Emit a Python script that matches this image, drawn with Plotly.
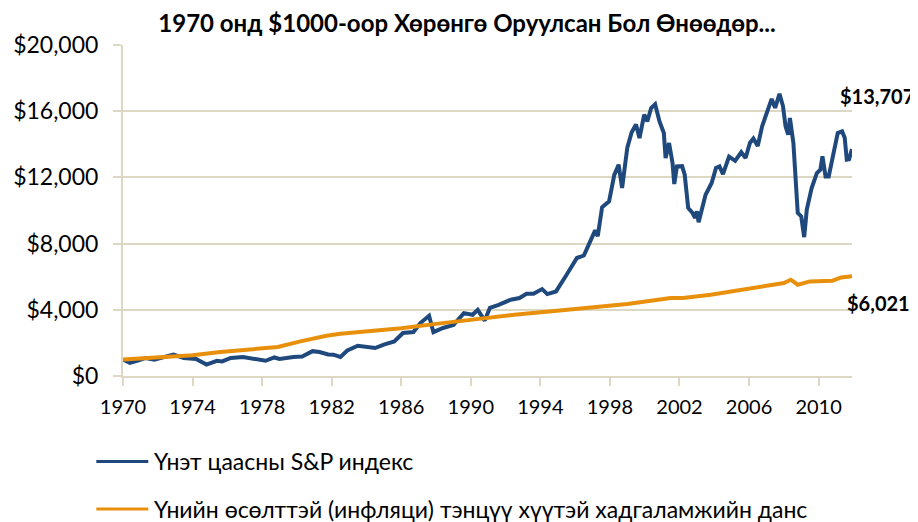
import plotly.graph_objects as go

# ---- data ----
title_text = "1970 онд $1000-оор Хөрөнгө Оруулсан Бол Өнөөдөр..."
series_names = ["Үнэт цаасны S&P индекс",
                "Үнийн өсөлттэй (инфляци) тэнцүү хүүтэй хадгаламжийн данс"]

sp_years = [1970.0, 1970.4, 1970.9, 1971.3, 1971.8, 1972.3, 1972.9, 1973.5, 1974.2, 1974.8,
            1975.4, 1975.7, 1976.2, 1976.9, 1977.5, 1978.2, 1978.7, 1979.0, 1979.8, 1980.3,
            1980.9, 1981.3, 1981.8, 1982.1, 1982.5, 1982.9, 1983.5, 1984.5, 1985.0, 1985.6,
            1986.1, 1986.7, 1987.1, 1987.6, 1987.85, 1988.4, 1989.0, 1989.6, 1990.1, 1990.4,
            1990.8, 1991.1, 1991.6, 1992.0, 1992.3, 1992.8, 1993.2, 1993.6, 1994.1, 1994.4,
            1994.9, 1995.5, 1996.1, 1996.5, 1996.9, 1997.15, 1997.3, 1997.55, 1997.95, 1998.25,
            1998.5, 1998.7, 1999.0, 1999.25, 1999.5, 1999.7, 1999.97, 2000.15, 2000.37, 2000.6,
            2000.85, 2001.1, 2001.2, 2001.4, 2001.6, 2001.7, 2001.85, 2002.15, 2002.3, 2002.5,
            2002.75, 2002.9, 2003.0, 2003.1, 2003.5, 2003.85, 2004.1, 2004.3, 2004.5, 2004.85,
            2005.2, 2005.55, 2005.8, 2006.05, 2006.25, 2006.5, 2006.75, 2007.0, 2007.3, 2007.5,
            2007.75, 2007.95, 2008.1, 2008.25, 2008.35, 2008.55, 2008.7, 2008.8, 2009.0, 2009.17,
            2009.32, 2009.6, 2009.9, 2010.1, 2010.22, 2010.4, 2010.58, 2010.85, 2011.1, 2011.35,
            2011.5, 2011.62, 2011.75, 2011.92]
sp_values = [1000, 790, 950, 1090, 990, 1150, 1290, 1090, 1030, 690,
             920, 880, 1090, 1150, 1030, 920, 1120, 1030, 1150, 1180,
             1500, 1450, 1300, 1290, 1150, 1540, 1830, 1690, 1900, 2090,
             2600, 2660, 3200, 3640, 2650, 2900, 3080, 3800, 3700, 4000,
             3350, 4120, 4300, 4500, 4610, 4710, 4970, 4970, 5250, 4950,
             5110, 6100, 7130, 7280, 8235, 8800, 8450, 10200, 10550, 12150,
             12770, 11360, 13800, 14730, 15200, 14380, 15790, 15380, 16190, 16420,
             15380, 14680, 13170, 14080, 12870, 11600, 12660, 12680, 12160, 10150,
             9850, 9550, 9950, 9290, 10950, 11660, 12570, 12660, 12200, 13250,
             13000, 13520, 13170, 14080, 14350, 13900, 15080, 15790, 16740, 16200,
             17050, 16310, 15080, 14580, 15590, 14080, 11660, 9850, 9640, 8390,
             10050, 11350, 12265, 12465, 13270, 12060, 12060, 13470, 14680, 14780,
             14400, 13070, 13100, 13707]

sav_years = [1970.0, 1972.0, 1974.0, 1975.6, 1977.5, 1978.9, 1980.2, 1980.8, 1981.3, 1981.7,
             1982.5, 1983.8, 1986.0, 1988.0, 1990.0, 1991.6, 1992.5, 1994.5, 1996.5, 1999.0,
             2001.5, 2002.2, 2003.8, 2005.5, 2006.8, 2008.0, 2008.4, 2008.8, 2009.5, 2010.8,
             2011.3, 2011.92]
sav_values = [1000, 1100, 1250, 1450, 1590, 1750, 2090, 2235, 2393, 2435,
              2556, 2659, 2880, 3150, 3400, 3601, 3700, 3900, 4108, 4350,
              4713, 4713, 4912, 5214, 5414, 5619, 5818, 5516, 5716, 5758,
              5957, 6021]

x_ticks = [1970, 1974, 1978, 1982, 1986, 1990, 1994, 1998, 2002, 2006, 2010]
y_ticks = [0, 4000, 8000, 12000, 16000, 20000]

# ---- styling ----
BLUE = "#1F497D"
ORANGE = "#E8900C"
GRID = "#DDD8C3"
FONT = "Lato, 'Open Sans', sans-serif"
colors = [BLUE, ORANGE]

fig = go.Figure()
fig.add_trace(go.Scatter(x=sp_years, y=sp_values, mode="lines", name=series_names[0],
                         line=dict(color=BLUE, width=4)))
fig.add_trace(go.Scatter(x=sav_years, y=sav_values, mode="lines", name=series_names[1],
                         line=dict(color=ORANGE, width=4)))

# end-value labels
fig.add_annotation(x=0.981, y=0.847, xref="paper", yref="paper", xanchor="left", yanchor="middle",
                   text=f"${sp_values[-1]:,.0f}", showarrow=False,
                   font=dict(family=FONT, size=20, color="#000000", weight="bold"))
fig.add_annotation(x=0.991, y=0.222, xref="paper", yref="paper", xanchor="left", yanchor="middle",
                   text=f"${sav_values[-1]:,.0f}", showarrow=False,
                   font=dict(family=FONT, size=20, color="#000000", weight="bold"))

# legend drawn below the chart (line sample + text)
legend_y = [-0.258, -0.402]
for name, col, ly in zip(series_names, colors, legend_y):
    fig.add_shape(type="line", xref="paper", yref="paper", x0=-0.0366, x1=0.0347, y0=ly, y1=ly,
                  line=dict(color=col, width=3))
    fig.add_annotation(x=0.040, y=ly, xref="paper", yref="paper", xanchor="left", yanchor="middle",
                       text=name, showarrow=False,
                       font=dict(family=FONT, size=23, color="#000000"))

fig.update_layout(
    width=910, height=514,
    margin=dict(l=115, r=66, t=37, b=146, autoexpand=False),
    paper_bgcolor="white", plot_bgcolor="white",
    font=dict(family=FONT, size=20, color="#000000"),
    title=dict(text=f"<b>{title_text}</b>", x=0.5044, xref="container", xanchor="center",
               y=0.9689, yref="container", yanchor="middle",
               font=dict(family=FONT, size=24, color="#000000")),
    xaxis=dict(range=[1970, 2011.92], tickvals=x_ticks, ticktext=[str(t) for t in x_ticks],
               showgrid=False, zeroline=False, showline=True, linecolor=GRID, linewidth=2,
               ticks="outside", ticklen=8, tickcolor=GRID, tickwidth=2, ticklabelstandoff=4,
               tickfont=dict(family=FONT, size=20)),
    yaxis=dict(range=[0, 20000], tickvals=y_ticks,
               ticktext=[f"${v:,.0f}" for v in y_ticks],
               showgrid=True, gridcolor=GRID, gridwidth=2, zeroline=False,
               showline=True, linecolor=GRID, linewidth=2,
               ticks="outside", ticklen=8, tickcolor=GRID, tickwidth=2, ticklabelstandoff=10,
               tickfont=dict(family=FONT, size=23)),
    showlegend=False,
)

fig.write_html("out.html")
